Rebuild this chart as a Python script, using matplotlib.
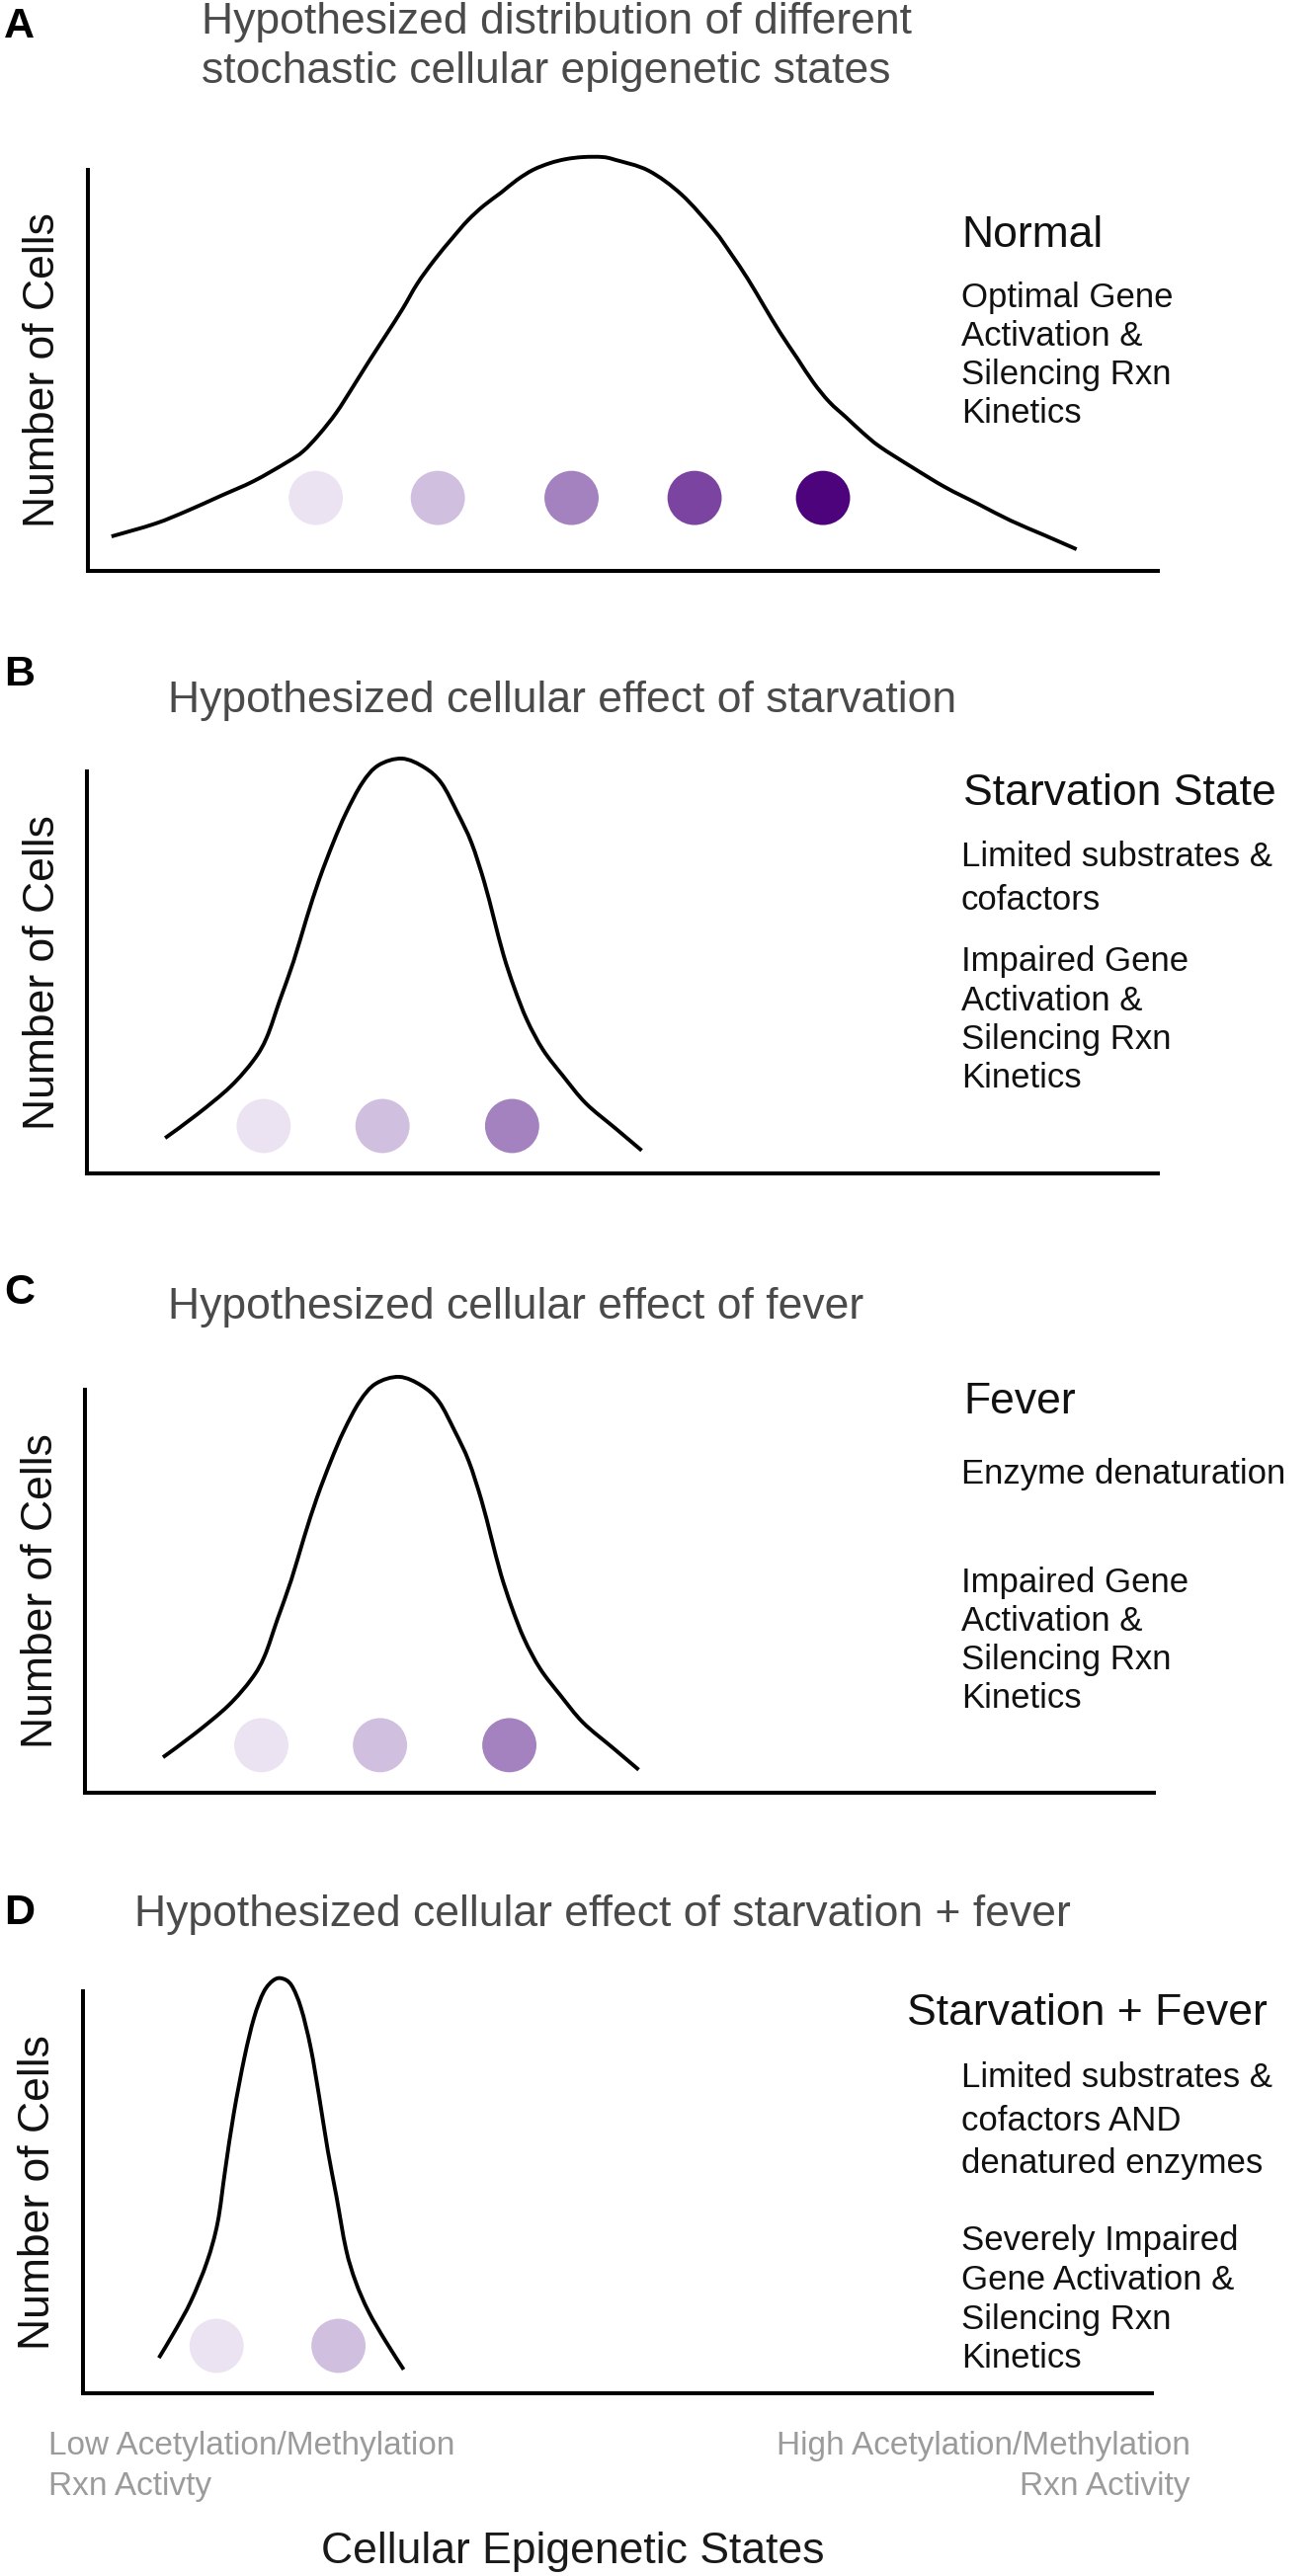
import matplotlib
matplotlib.use("Agg")
import matplotlib.pyplot as plt
from matplotlib.path import Path
from matplotlib.patches import PathPatch

plt.rcParams['font.family'] = ['Liberation Sans', 'DejaVu Sans']

# ---------------- data ----------------
# Panel A: Normal
states_A = [2.2, 6.3, 9.3, 12.4, 15.5, 18.6, 20.1, 21.6, 23.2, 24.7, 26.2, 27.8,
            29.4, 30.8, 32.4, 34.0, 35.5, 37.0, 38.6, 40.1, 41.6, 43.2, 44.7, 46.3,
            48.1, 49.3, 52.4, 55.5, 58.5, 60.1, 61.7, 63.2, 64.7, 66.3, 67.8, 69.3,
            70.9, 72.4, 74.0, 77.0, 80.1, 83.2, 86.2, 89.4, 92.4]
cells_A = [8.6, 11.8, 15.0, 18.7, 22.4, 27.1, 29.8, 34.0, 39.4, 45.6, 52.0, 58.6,
           65.3, 71.7, 77.6, 82.8, 87.4, 91.1, 94.3, 97.5, 100.0, 101.7, 102.7, 103.2,
           103.2, 102.5, 99.8, 93.8, 85.0, 79.1, 72.7, 66.0, 59.4, 53.0, 47.0, 42.1,
           38.2, 34.5, 31.0, 25.9, 20.9, 16.7, 12.6, 8.9, 5.4]
dots_A = [21.3, 32.7, 45.2, 56.7, 68.7]

# Panel B: Starvation
states_B = [7.3, 10.3, 13.4, 15.6, 16.8, 18.0, 19.3, 20.5, 21.7, 23.0, 24.2, 25.7,
            27.2, 29.4, 31.5, 33.1, 34.6, 35.9, 37.1, 38.0, 38.9, 39.9, 41.1, 42.6,
            44.5, 46.6, 49.4, 51.8]
cells_B = [8.8, 14.7, 21.6, 28.3, 33.9, 43.0, 52.8, 63.4, 73.2, 82.3, 89.7, 97.1,
           101.5, 103.2, 101.0, 97.1, 89.7, 82.3, 72.5, 63.4, 54.3, 46.2, 38.1, 30.7,
           24.1, 17.4, 11.1, 5.7]
dots_B = [16.5, 27.6, 39.7]

# Panel C: Fever
states_C = [7.3, 10.3, 13.4, 15.6, 16.8, 18.0, 19.3, 20.5, 21.7, 23.0, 24.2, 25.7,
            27.2, 29.4, 31.5, 33.1, 34.6, 35.9, 37.1, 38.0, 38.9, 39.9, 41.1, 42.6,
            44.5, 46.6, 49.4, 51.8]
cells_C = [8.8, 14.7, 21.6, 28.3, 33.9, 43.0, 52.8, 63.4, 73.2, 82.3, 89.7, 97.1,
           101.5, 103.2, 101.0, 97.1, 89.7, 82.3, 72.5, 63.4, 54.3, 46.2, 38.1, 30.7,
           24.1, 17.4, 11.1, 5.7]
dots_C = [16.5, 27.6, 39.7]

# Panel D: Starvation + Fever
states_D = [7.1, 8.6, 10.1, 11.6, 12.6, 13.3, 14.1, 15.1, 16.0, 16.9, 17.8, 18.6,
            19.5, 20.4, 21.3, 22.1, 22.9, 23.7, 24.6, 25.5, 26.7, 28.3, 30.0]
cells_D = [8.8, 15.5, 22.9, 32.7, 42.5, 55.5, 69.5, 83.5, 93.4, 99.8, 102.7, 103.2,
           101.5, 95.8, 86.0, 73.7, 60.4, 49.1, 35.9, 27.8, 20.4, 13.0, 5.9]
dots_D = [12.5, 23.9]

dot_level = 11.8
dot_level_A = 18.2
dot_colors = ['#ebe3f2', '#d0bfdf', '#a481bf', '#7a44a0', '#4c037c']

panel_letters = ['A', 'B', 'C', 'D']
titles = [['Hypothesized distribution of different',
           'stochastic cellular epigenetic states'],
          ['Hypothesized cellular effect of starvation'],
          ['Hypothesized cellular effect of fever'],
          ['Hypothesized cellular effect of starvation + fever']]
state_names = ['Normal', 'Starvation State', 'Fever', 'Starvation + Fever']
notes_1 = [[],
           ['Limited substrates &', 'cofactors'],
           ['Enzyme denaturation'],
           ['Limited substrates &', 'cofactors AND', 'denatured enzymes']]
notes_2 = [['Optimal Gene', 'Activation &', 'Silencing Rxn', 'Kinetics'],
           ['Impaired Gene', 'Activation &', 'Silencing Rxn', 'Kinetics'],
           ['Impaired Gene', 'Activation &', 'Silencing Rxn', 'Kinetics'],
           ['Severely Impaired', 'Gene Activation &', 'Silencing Rxn', 'Kinetics']]
y_label = 'Number of Cells'
x_label = 'Cellular Epigenetic States'
low_label = ['Low Acetylation/Methylation', 'Rxn Activty']
high_label = ['High Acetylation/Methylation', 'Rxn Activity']

# ---------------- layout ----------------
W, H = 1328, 2608
fig = plt.figure(figsize=(W / 100, H / 100), dpi=100)
fig.patch.set_facecolor('white')


def fx(x):
    return x / W


def fy(y):
    return 1 - y / H


def ptext(x, y, s, **kw):
    kw.setdefault('va', 'baseline')
    kw.setdefault('ha', 'left')
    fig.text(fx(x), fy(y), s, **kw)


def smooth_path(xs, ys):
    """Bezier path passing through the read points (Catmull-Rom handles)."""
    pts = list(zip(xs, ys))
    n = len(pts)
    verts = [pts[0]]
    codes = [Path.MOVETO]
    for i in range(n - 1):
        p0 = pts[i - 1] if i > 0 else pts[i]
        p1 = pts[i]
        p2 = pts[i + 1]
        p3 = pts[i + 2] if i + 2 < n else pts[i + 1]
        c1 = (p1[0] + (p2[0] - p0[0]) / 6, p1[1] + (p2[1] - p0[1]) / 6)
        c2 = (p2[0] - (p3[0] - p1[0]) / 6, p2[1] - (p3[1] - p1[1]) / 6)
        verts += [c1, c2, p2]
        codes += [Path.CURVE4] * 3
    return Path(verts, codes)


# axes boxes in pixels: left, right, top, bottom
boxes = [(89, 1172, 172, 578),
         (88, 1172, 781, 1188),
         (86, 1168, 1407, 1815),
         (84, 1166, 2016, 2423)]

curves = [(states_A, cells_A, dots_A, dot_level_A),
          (states_B, cells_B, dots_B, dot_level),
          (states_C, cells_C, dots_C, dot_level),
          (states_D, cells_D, dots_D, dot_level)]

letter_base = [38, 694, 1320, 1948]
title_x = [204, 170, 170, 136]
title_base = [[34, 84], [721], [1335], [1950]]
name_x = [973, 975, 975, 918]
name_base = [250, 815, 1431, 2050]
notes1_base = [[], [877, 921], [1502], [2113, 2157, 2200]]
notes2_base = [[311, 350, 389, 428], [983, 1023, 1062, 1101],
               [1612, 1651, 1690, 1729], [2278, 2318, 2358, 2397]]
ylab_x = [55, 55, 53, 50]

title_color = '#4a4a4a'
text_color = '#111111'
gray_color = '#9b9b9b'

for i, (l, r, t, b) in enumerate(boxes):
    ax = fig.add_axes([fx(l), fy(b), (r - l) / W, (b - t) / H])
    ax.set_xlim(0, 100)
    ax.set_ylim(0, 100)
    for side in ['top', 'right']:
        ax.spines[side].set_visible(False)
    for side in ['left', 'bottom']:
        ax.spines[side].set_linewidth(2.9)
        ax.spines[side].set_color('black')
        ax.spines[side].set_capstyle('projecting')
    ax.set_xticks([])
    ax.set_yticks([])
    ax.patch.set_alpha(0)

    xs, ys, dots, lvl = curves[i]
    ax.add_patch(PathPatch(smooth_path(xs, ys), fill=False, edgecolor='black',
                           lw=2.8, clip_on=False, capstyle='butt',
                           joinstyle='round', zorder=3))
    ax.scatter(dots, [lvl] * len(dots), s=1560, c=dot_colors[:len(dots)],
               edgecolors='none', clip_on=False, zorder=2)

    # y label
    ptext(ylab_x[i], (t + b) / 2, y_label, rotation=90, rotation_mode='anchor',
          ha='center', va='baseline', fontsize=32, color=text_color)

    # panel letter and title
    ptext(4, letter_base[i], panel_letters[i], fontsize=31, fontweight='bold',
          color='black')
    for line, yb in zip(titles[i], title_base[i]):
        ptext(title_x[i], yb, line, fontsize=32, color=title_color)

    # state name and notes
    ptext(name_x[i], name_base[i], state_names[i], fontsize=32, color=text_color)
    for line, yb in zip(notes_1[i], notes1_base[i]):
        ptext(973, yb, line, fontsize=25, color=text_color)
    for line, yb in zip(notes_2[i], notes2_base[i]):
        ptext(973, yb, line, fontsize=25, color=text_color)

# x-axis annotations
ptext(49, 2485, low_label[0], fontsize=24, color=gray_color)
ptext(49, 2526, low_label[1], fontsize=24, color=gray_color)
ptext(1205, 2485, high_label[0], fontsize=24, color=gray_color, ha='right')
ptext(1205, 2526, high_label[1], fontsize=24, color=gray_color, ha='right')
ptext(580, 2595, x_label, fontsize=32, color='#1a1a1a', ha='center')

fig.savefig('out.png', dpi=100, facecolor='white')
